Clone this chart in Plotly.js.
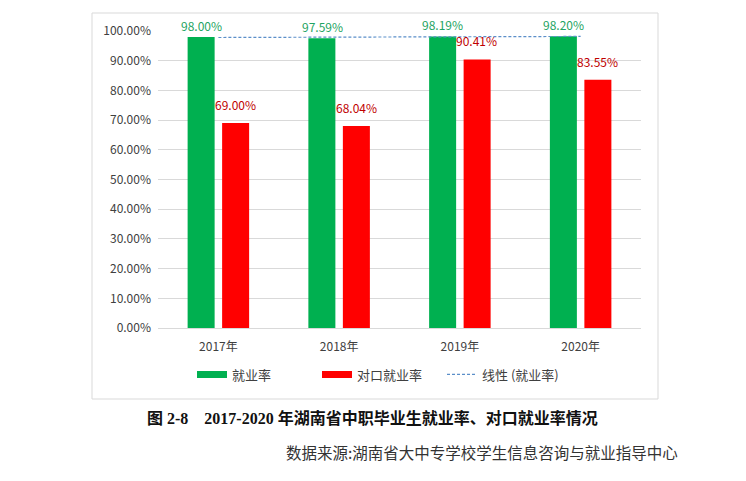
<!DOCTYPE html>
<html>
<head>
<meta charset="utf-8">
<script src="https://cdn.plot.ly/plotly-3.0.1.min.js"></script>
<style>html,body{margin:0;padding:0;background:#fff;}#chart{width:746px;height:481px;}</style>
</head>
<body>
<div id="chart"></div>
<script>
// ---- data ----
const years = ['2017年', '2018年', '2019年', '2020年'];
const employmentRate = [98.00, 97.59, 98.19, 98.20];      // 就业率 (%)
const matchedRate = [69.00, 68.04, 90.41, 83.55];         // 对口就业率 (%)
const seriesNames = ['就业率', '对口就业率', '线性 (就业率)'];
const captionText = '图 2-8\u00a0\u00a0\u00a0\u00a02017-2020 年湖南省中职毕业生就业率、对口就业率情况';
const sourceText = '数据来源:湖南省大中专学校学生信息咨询与就业指导中心';

// linear trendline of 就业率 (least squares over category index, as in Excel)
const n = employmentRate.length;
const idx = employmentRate.map((_, i) => i + 1);
const mx = idx.reduce((a, b) => a + b, 0) / n;
const my = employmentRate.reduce((a, b) => a + b, 0) / n;
let sxy = 0, sxx = 0;
for (let i = 0; i < n; i++) { sxy += (idx[i] - mx) * (employmentRate[i] - my); sxx += (idx[i] - mx) ** 2; }
const slope = sxy / sxx, intercept = my - slope * mx;
const trend = idx.map(x => intercept + slope * x);

const GREEN = '#00B050', RED = '#FF0000';
const FONT = 'Noto Sans CJK SC, Noto Sans, sans-serif';

const traces = [
  {type: 'bar', x: years, y: employmentRate, name: seriesNames[0], marker: {color: GREEN},
   showlegend: false, legendgroup: 'a', hoverinfo: 'y'},
  {type: 'bar', x: years, y: matchedRate, name: seriesNames[1], marker: {color: RED},
   showlegend: false, legendgroup: 'b', hoverinfo: 'y'},
  {type: 'scatter', mode: 'lines', x: years, y: trend, name: seriesNames[2],
   line: {color: '#5B8FC9', width: 1.2, dash: '3px,2px'}, legendrank: 3, hoverinfo: 'skip'},
  // legend-only swatches (wide flat rectangles like the original)
  {type: 'scatter', mode: 'lines', x: [null], y: [null], name: seriesNames[0], legendgroup: 'a',
   line: {color: GREEN, width: 7}, legendrank: 1, hoverinfo: 'skip'},
  {type: 'scatter', mode: 'lines', x: [null], y: [null], name: seriesNames[1], legendgroup: 'b',
   line: {color: RED, width: 7}, legendrank: 2, hoverinfo: 'skip'}
];

const annotations = [];
years.forEach((yr, i) => {
  annotations.push({x: yr, y: employmentRate[i], xref: 'x', yref: 'y', xshift: -17,
    yanchor: 'bottom', yshift: 1, showarrow: false, text: employmentRate[i].toFixed(2) + '%',
    font: {family: FONT, size: 12, color: '#1FA463'}});
  annotations.push({x: yr, y: matchedRate[i], xref: 'x', yref: 'y', xshift: 17,
    yanchor: 'bottom', yshift: 8, showarrow: false, text: matchedRate[i].toFixed(2) + '%',
    font: {family: FONT, size: 12, color: '#C00000'}});
});
annotations.push({xref: 'paper', yref: 'paper', x: (145 - 158) / 483, y: (328 - 418) / 297,
  xanchor: 'left', yanchor: 'middle', showarrow: false, text: '<b>' + captionText + '</b>',
  font: {family: 'Liberation Serif, Noto Sans CJK SC, serif', size: 16, color: '#111'}});
annotations.push({xref: 'paper', yref: 'paper', x: (680 - 158) / 483, y: (328 - 452) / 297,
  xanchor: 'right', yanchor: 'middle', showarrow: false, text: sourceText,
  font: {family: FONT, size: 15.5, color: '#333'}});

const layout = {
  width: 746, height: 481,
  margin: {l: 158, r: 105, t: 31, b: 153},
  paper_bgcolor: '#fff', plot_bgcolor: '#fff',
  barmode: 'group', bargap: 0.4286, bargroupgap: 0.217,
  showlegend: true,
  font: {family: FONT, size: 12, color: '#404040'},
  xaxis: {type: 'category', showgrid: false, zeroline: false, showline: false, ticks: '',
    tickfont: {family: FONT, size: 12, color: '#404040'}, ticklabelstandoff: 10, fixedrange: true},
  yaxis: {range: [0, 100], dtick: 10, tickformat: '.2f', ticksuffix: '%', showgrid: true,
    gridcolor: '#D9D9D9', gridwidth: 1, zeroline: true, zerolinecolor: '#D9D9D9', zerolinewidth: 1,
    showline: false, ticks: '', ticklabelstandoff: 6,
    tickfont: {family: FONT, size: 12, color: '#404040'}, fixedrange: true},
  legend: {orientation: 'h', x: (192 - 158) / 483, xanchor: 'left', y: (328 - 374.5) / 297, yanchor: 'middle',
    entrywidth: 80, entrywidthmode: 'pixels',
    font: {family: FONT, size: 13, color: '#404040'}, bgcolor: 'rgba(0,0,0,0)', traceorder: 'normal'},
  shapes: [{type: 'rect', xref: 'paper', yref: 'paper', x0: (92 - 158) / 483, x1: (658 - 158) / 483,
    y0: (328 - 399) / 297, y1: (328 - 13) / 297, line: {color: '#D9D9D9', width: 1}, fillcolor: 'rgba(0,0,0,0)',
    layer: 'below'}],
  annotations: annotations
};

Plotly.newPlot('chart', traces, layout, {displayModeBar: false, staticPlot: true});
</script>
</body>
</html>
